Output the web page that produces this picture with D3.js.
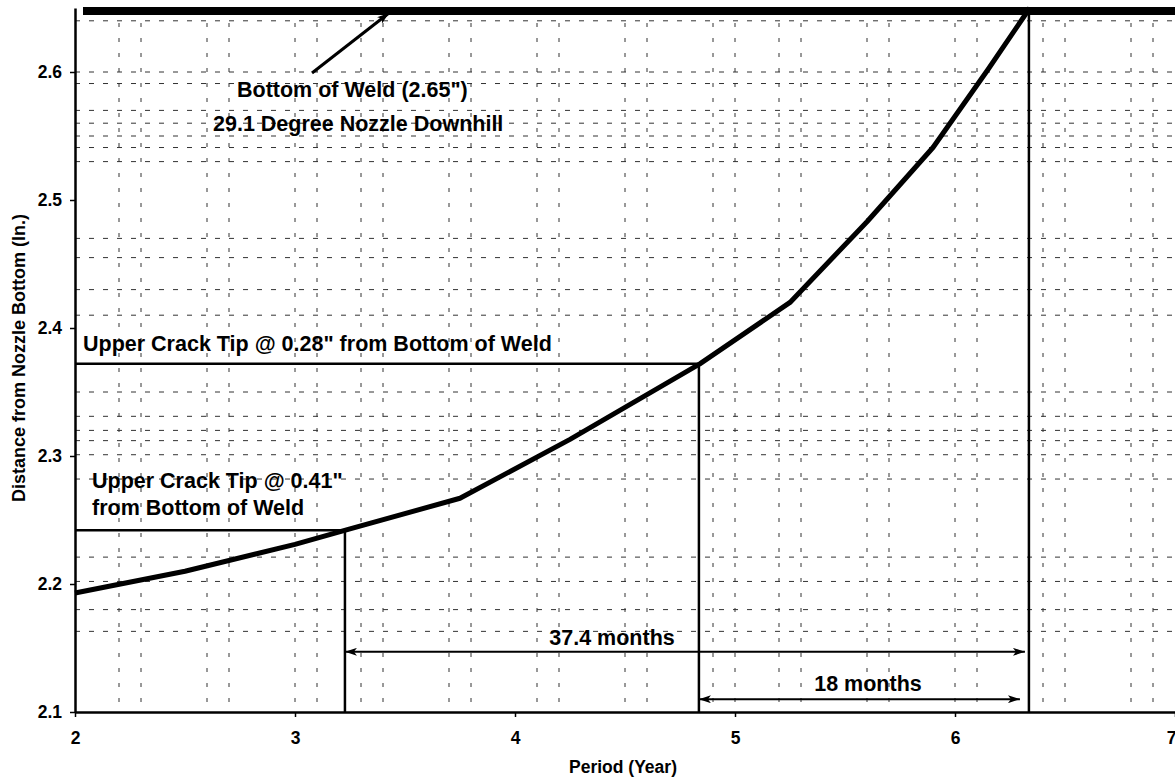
<!DOCTYPE html>
<html>
<head>
<meta charset="utf-8">
<script src="https://d3js.org/d3.v7.min.js"></script>
<style>
  body { margin: 0; background: #fff; }
  svg { display: block; font-family: "Liberation Sans", Arial, sans-serif; font-weight: bold; }
</style>
</head>
<body>
<svg></svg>
<script>
// chart data
const years = [2.0, 2.5, 3.0, 3.25, 3.75, 4.25, 4.84, 5.25, 5.6, 5.9, 6.15, 6.34];
const distance = [2.193, 2.21, 2.231, 2.243, 2.267, 2.313, 2.372, 2.42, 2.483, 2.541, 2.602, 2.65];

// crack tip markers and weld bottom
const tipYears = [3.227, 4.836];
const tipDistance = [2.242, 2.372];
const weldBottom = 2.65;
const weldYear = 6.336;

const xTicks = [2, 3, 4, 5, 6, 7];
const yTicks = [2.1, 2.2, 2.3, 2.4, 2.5, 2.6];

// scanned grid lines
const xGrid = [2.2, 2.3, 2.6, 2.7, 3.0, 3.1, 3.3, 3.4, 3.7, 3.8, 4.1, 4.2, 4.5, 4.6, 4.9, 5.0,
    5.2, 5.3, 5.6, 5.7, 6.0, 6.1, 6.4, 6.5, 6.8, 6.9];
const yGrid = [2.163, 2.18, 2.202, 2.221, 2.282, 2.301, 2.312, 2.32, 2.331, 2.35, 2.41, 2.43,
    2.455, 2.47, 2.53, 2.541, 2.55, 2.56, 2.57, 2.591, 2.6, 2.64];

const width = 1175;
const height = 777;
let svg = d3.select("svg")
    .attr("width", width)
    .attr("height", height);

let x = d3.scaleLinear().domain([2, 7]).range([75, 1175]);
let y = d3.scaleLinear().domain([2.1, 2.65]).range([712, 8]);

// arrow heads
let defs = svg.append("defs");
defs.append("marker").attr("id", "arrow")
    .attr("viewBox", "0 0 12 8").attr("refX", 12).attr("refY", 4)
    .attr("markerWidth", 12).attr("markerHeight", 8)
    .attr("markerUnits", "userSpaceOnUse").attr("orient", "auto-start-reverse")
    .append("path").attr("d", "M0,0 L12,4 L0,8 L3,4 Z").style("fill", "black");

// grid
let grid = svg.append("g").style("stroke", "#333").style("stroke-width", 1);
grid.selectAll(".vg").data(xGrid).enter().append("line")
    .attr("x1", d => x(d)).attr("x2", d => x(d))
    .attr("y1", y(2.65)).attr("y2", y(2.1))
    .style("stroke-dasharray", "4,11");
grid.selectAll(".hg").data(yGrid).enter().append("line")
    .attr("x1", x(2)).attr("x2", x(7))
    .attr("y1", d => y(d)).attr("y2", d => y(d))
    .style("stroke-dasharray", "5,9");

// axes
let yAxis = svg.append("g").attr("transform", `translate(${x(2)},0)`)
    .call(d3.axisLeft(y).tickValues(yTicks).tickFormat(d3.format(".1f")).tickSize(5).tickSizeOuter(0).tickPadding(8));
let xAxis = svg.append("g").attr("transform", `translate(0,${y(2.1)})`)
    .call(d3.axisBottom(x).tickValues(xTicks).tickFormat(d3.format("d")).tickSize(5).tickSizeOuter(0).tickPadding(15));
[xAxis, yAxis].forEach(a => {
    a.select(".domain").style("stroke", "black").style("stroke-width", 2.5);
    a.selectAll(".tick line").style("stroke", "black").style("stroke-width", 1.5);
    a.selectAll("text").style("font-size", "17.5px").style("font-weight", "bold")
        .style("font-family", "Liberation Sans, Arial, sans-serif").style("fill", "black");
});
// last label sits on the right edge
xAxis.selectAll(".tick text").filter(d => d === 7).attr("text-anchor", "end").attr("x", 1);

// bottom of weld line
svg.append("line")
    .attr("x1", x(2) + 8).attr("x2", x(7))
    .attr("y1", y(weldBottom) + 3).attr("y2", y(weldBottom) + 3)
    .style("stroke", "black").style("stroke-width", 8);

// crack tip guide lines
let guides = svg.append("g").style("stroke", "black").style("stroke-width", 2.5).style("fill", "none");
tipYears.forEach((t, i) => {
    guides.append("line").attr("x1", x(2)).attr("x2", x(t))
        .attr("y1", y(tipDistance[i])).attr("y2", y(tipDistance[i]));
    guides.append("line").attr("x1", x(t)).attr("x2", x(t))
        .attr("y1", y(tipDistance[i])).attr("y2", y(2.1));
});
guides.append("line").attr("x1", x(weldYear)).attr("x2", x(weldYear))
    .attr("y1", y(weldBottom)).attr("y2", y(2.1));

// growth curve
const line = d3.line()
    .x((d, i) => x(years[i]))
    .y(d => y(d));
svg.append("path")
    .attr("d", line(distance))
    .style("stroke", "black").style("stroke-width", 5).style("fill", "none")
    .style("stroke-linejoin", "round");

// month arrows
let arrows = svg.append("g").style("stroke", "black").style("stroke-width", 2);
arrows.append("line").attr("x1", x(tipYears[0])).attr("x2", x(weldYear) - 4)
    .attr("y1", y(2.147)).attr("y2", y(2.147))
    .attr("marker-start", "url(#arrow)").attr("marker-end", "url(#arrow)");
arrows.append("line").attr("x1", x(tipYears[1])).attr("x2", x(weldYear) - 9)
    .attr("y1", y(2.11)).attr("y2", y(2.11))
    .attr("marker-start", "url(#arrow)").attr("marker-end", "url(#arrow)");

// pointer to the weld line
svg.append("line").attr("x1", 312).attr("y1", 73).attr("x2", 389).attr("y2", 13)
    .style("stroke", "black").style("stroke-width", 3)
    .attr("marker-end", "url(#arrow)");

// labels
let labels = svg.append("g").style("font-size", "21.5px").style("fill", "black");
labels.append("text").attr("x", 237).attr("y", 97).text("Bottom of Weld (2.65\")");
labels.append("text").attr("x", 213).attr("y", 131).text("29.1 Degree Nozzle Downhill");
labels.append("text").attr("x", 83).attr("y", 351).text("Upper Crack Tip @ 0.28\" from Bottom of Weld");
labels.append("text").attr("x", 92).attr("y", 488).text("Upper Crack Tip @ 0.41\"");
labels.append("text").attr("x", 92).attr("y", 515).text("from Bottom of Weld");
labels.append("text").attr("x", 612).attr("y", 645).attr("text-anchor", "middle").text("37.4 months");
labels.append("text").attr("x", 868).attr("y", 691).attr("text-anchor", "middle").text("18 months");

// axis titles
svg.append("text").attr("x", 623).attr("y", 773).attr("text-anchor", "middle")
    .style("font-size", "17.5px").text("Period (Year)");
svg.append("text").attr("transform", "translate(25,358) rotate(-90)").attr("text-anchor", "middle")
    .style("font-size", "18px").text("Distance from Nozzle Bottom (In.)");
</script>
</body>
</html>
